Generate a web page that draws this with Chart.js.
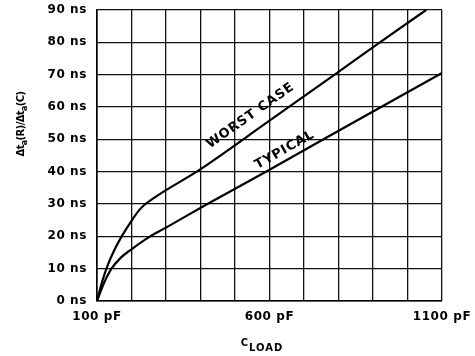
<!DOCTYPE html>
<html>
<head>
<meta charset="utf-8">
<script src="https://cdn.jsdelivr.net/npm/chart.js@4"></script>
<style>
  html, body { margin: 0; padding: 0; background: #fff; }
  #wrap { width: 475px; height: 356px; }
</style>
</head>
<body>
<div id="wrap"><canvas id="chart"></canvas></div>
<script>
// load capacitance (pF) vs delay (ns)
const worstLoad  = [100, 115, 130, 150, 175, 200, 220, 236, 260, 300, 389, 600, 795, 920, 1054];
const worstDelay = [0, 6, 10.8, 15.7, 20.6, 24.8, 27.8, 29.6, 31.5, 34.3, 40, 55.8, 70.5, 80, 90];
const typLoad    = [100, 120, 142, 170, 200, 253, 300, 420, 600, 913, 1100];
const typDelay   = [0, 5.5, 10, 13.5, 16, 19.9, 22.7, 30, 40.6, 59.4, 70.5];

const xLabelled = [100, 600, 1100];   // only these loads carry a label
const curveNames = ["WORST CASE", "TYPICAL"];

const FONT = "'DejaVu Sans', sans-serif";

function toPoints(xs, ys) {
    return xs.map((x, i) => ({ x: x, y: ys[i] }));
}

// curve labels + axis titles with subscripts, drawn on the canvas
const textPlugin = {
    id: "textPlugin",
    beforeDraw(chart) {
        chart.ctx.letterSpacing = "0.6px";
    },
    afterDraw(chart) {
        const ctx = chart.ctx;
        const xs = chart.scales.x, ys = chart.scales.y;
        ctx.save();
        ctx.fillStyle = "#000";

        // labels along the curves: [dataset, text center (pF, ns), two points for the slope]
        const spots = [
            [0, 545, 57.3, 10, 13],
            [1, 644, 46.7, 8, 10]
        ];
        ctx.font = "bold 13px " + FONT;
        ctx.letterSpacing = "0.8px";
        ctx.textAlign = "center";
        ctx.textBaseline = "middle";
        spots.forEach(s => {
            const pts = chart.data.datasets[s[0]].data;
            const a = pts[s[3]], b = pts[s[4]];
            const ang = Math.atan2(ys.getPixelForValue(b.y) - ys.getPixelForValue(a.y),
                                   xs.getPixelForValue(b.x) - xs.getPixelForValue(a.x));
            ctx.save();
            ctx.translate(xs.getPixelForValue(s[1]), ys.getPixelForValue(s[2]));
            ctx.rotate(ang);
            ctx.fillText(curveNames[s[0]], 0, 0);
            ctx.restore();
        });

        // y title: Δta(R)/Δta(C), rotated
        ctx.textAlign = "left";
        ctx.textBaseline = "alphabetic";
        ctx.letterSpacing = "-0.6px";
        const parts = [["Δt", 0], ["a", 1], ["(R)/Δt", 0], ["a", 1], ["(C)", 0]];
        const big = "bold 10px " + FONT, small = "bold 8px " + FONT;
        let total = 0;
        parts.forEach(p => { ctx.font = p[1] ? small : big; total += ctx.measureText(p[0]).width; });
        ctx.save();
        ctx.translate(24, 124);
        ctx.rotate(-Math.PI / 2);
        let px = -total / 2;
        parts.forEach(p => {
            ctx.font = p[1] ? small : big;
            ctx.fillText(p[0], px, p[1] ? 2.5 : 0);
            px += ctx.measureText(p[0]).width;
        });
        ctx.restore();

        // x title: C with LOAD as subscript
        ctx.letterSpacing = "1px";
        ctx.font = "bold 10px " + FONT;
        const wC = ctx.measureText("C").width;
        const wL = ctx.measureText("LOAD").width;
        const sx = 262 - (wC + wL) / 2;
        ctx.fillText("C", sx, 346);
        ctx.fillText("LOAD", sx + wC, 351);

        ctx.restore();
    }
};

new Chart(document.getElementById("chart"), {
    type: "line",
    data: {
        datasets: [
            {
                label: curveNames[0],
                data: toPoints(worstLoad, worstDelay),
                borderColor: "#000",
                borderWidth: 2.2,
                pointRadius: 0,
                cubicInterpolationMode: "monotone",
                fill: false
            },
            {
                label: curveNames[1],
                data: toPoints(typLoad, typDelay),
                borderColor: "#000",
                borderWidth: 2.2,
                pointRadius: 0,
                cubicInterpolationMode: "monotone",
                fill: false
            }
        ]
    },
    options: {
        responsive: true,
        maintainAspectRatio: false,
        animation: false,
        layout: { padding: { top: 10, right: 33, left: 0, bottom: 0 } },
        plugins: {
            legend: { display: false },
            tooltip: { enabled: false }
        },
        scales: {
            x: {
                type: "linear",
                min: 100,
                max: 1100,
                afterFit: s => { s.height = 55; s.paddingLeft = 0; s.paddingRight = 0; },
                ticks: {
                    stepSize: 100,
                    autoSkip: false,
                    maxRotation: 0,
                    padding: 9,
                    color: "#000",
                    font: { family: FONT, weight: "bold", size: 12 },
                    callback: v => xLabelled.includes(v) ? v + " pF" : ""
                },
                grid: { color: "#111", lineWidth: 1.3, drawTicks: false },
                border: { color: "#000", width: 1.6 }
            },
            y: {
                min: 0,
                max: 90,
                afterFit: s => { s.width = 97; s.paddingTop = 0; s.paddingBottom = 0; },
                ticks: {
                    stepSize: 10,
                    padding: 10,
                    color: "#000",
                    font: { family: FONT, weight: "bold", size: 12 },
                    callback: v => v + " ns"
                },
                grid: { color: "#111", lineWidth: 1.3, drawTicks: false },
                border: { color: "#000", width: 1.6 }
            }
        }
    },
    plugins: [textPlugin]
});
</script>
</body>
</html>
